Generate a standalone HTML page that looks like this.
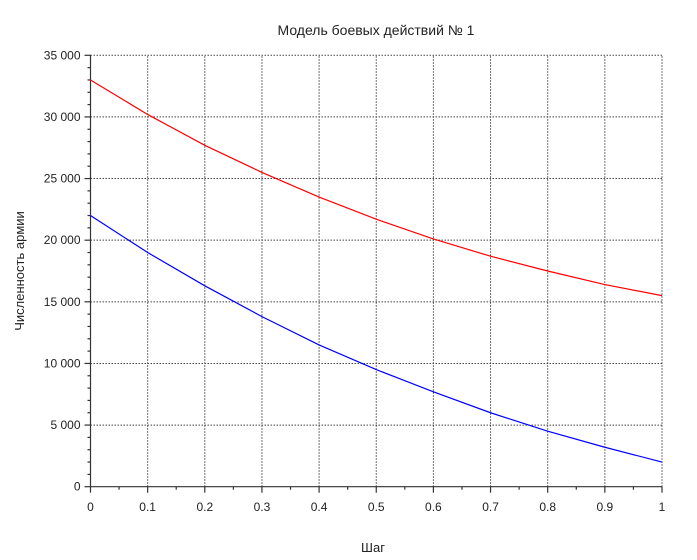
<!DOCTYPE html>
<html><head><meta charset="utf-8"><style>
body{margin:0;background:#fff;width:697px;height:555px;overflow:hidden}
svg text{font-family:"Liberation Sans","DejaVu Sans",sans-serif;fill:#222}
</style></head><body>
<svg id="c" width="697" height="555"></svg>
<script>
const xVals=[0,0.1,0.2,0.3,0.4,0.5,0.6,0.7,0.8,0.9,1];
const redVals=[33000,30200,27700,25500,23500,21700,20100,18700,17500,16400,15500];
const blueVals=[22000,19000,16300,13800,11500,9500,7700,6000,4500,3200,2000];
const xTicks=[0,0.1,0.2,0.3,0.4,0.5,0.6,0.7,0.8,0.9,1];
const xTickLabels=["0","0.1","0.2","0.3","0.4","0.5","0.6","0.7","0.8","0.9","1"];
const yTicks=[0,5000,10000,15000,20000,25000,30000,35000];
const yTickLabels=["0","5 000","10 000","15 000","20 000","25 000","30 000","35 000"];
const X0=90.5,X1=662,Y0=486.7,Y1=55.3;
const sx=v=>X0+(X1-X0)*v, sy=v=>Y0-(Y0-Y1)*v/35000;
const s=document.getElementById('c'),NS='http://www.w3.org/2000/svg';
function mk(t,a,p){const e=document.createElementNS(NS,t);for(const k in a)e.setAttribute(k,a[k]);(p||s).appendChild(e);return e;}
const grid=mk('g',{});
xTicks.forEach((v,i)=>{if(i>0){const l=mk('line',{x1:sx(v),x2:sx(v),y1:Y0,y2:Y1,stroke:'#444','stroke-dasharray':'1.5,1.5','stroke-width':1},grid);}});
yTicks.forEach((v,i)=>{if(i>0){const l=mk('line',{x1:X0,x2:X1,y1:sy(v),y2:sy(v),stroke:'#444','stroke-dasharray':'1.5,1.5','stroke-width':1},grid);}});
const ax=mk('g',{stroke:'#333','stroke-width':1.2});
mk('line',{x1:X0,x2:X1,y1:Y0,y2:Y0},ax);mk('line',{x1:X0,x2:X0,y1:Y0,y2:Y1},ax);
xTicks.forEach((v,i)=>{mk('line',{x1:sx(v),x2:sx(v),y1:Y0,y2:Y0+6},ax);
 if(i<xTicks.length-1){const m=(v+xTicks[i+1])/2;mk('line',{x1:sx(m),x2:sx(m),y1:Y0,y2:Y0+3},ax);}
 const t=mk('text',{x:sx(v),y:511,'text-anchor':'middle','font-size':12});t.textContent=xTickLabels[i];});
yTicks.forEach((v,i)=>{mk('line',{x1:X0-6,x2:X0,y1:sy(v),y2:sy(v)},ax);
 if(i<yTicks.length-1){for(let k=1;k<5;k++){const m=v+(yTicks[i+1]-v)*k/5;mk('line',{x1:X0-3,x2:X0,y1:sy(m),y2:sy(m)},ax);}}
 const t=mk('text',{x:X0-10,y:sy(v)+4,'text-anchor':'end','font-size':12});t.textContent=yTickLabels[i];});
function line(vals,col,name){const p=mk('polyline',{points:xVals.map((x,i)=>sx(x)+','+sy(vals[i])).join(' '),fill:'none',stroke:col,'stroke-width':1.2});}
line(redVals,'#ff0000','red-series');line(blueVals,'#0000ff','blue-series');
let t=mk('text',{x:376,y:35,'text-anchor':'middle','font-size':14});t.textContent='Модель боевых действий № 1';
t=mk('text',{x:373,y:552,'text-anchor':'middle','font-size':13});t.textContent='Шаг';
t=mk('text',{x:0,y:0,'text-anchor':'middle','font-size':13,transform:'translate(24,271) rotate(-90)'});t.textContent='Численность армии';
</script></body></html>
